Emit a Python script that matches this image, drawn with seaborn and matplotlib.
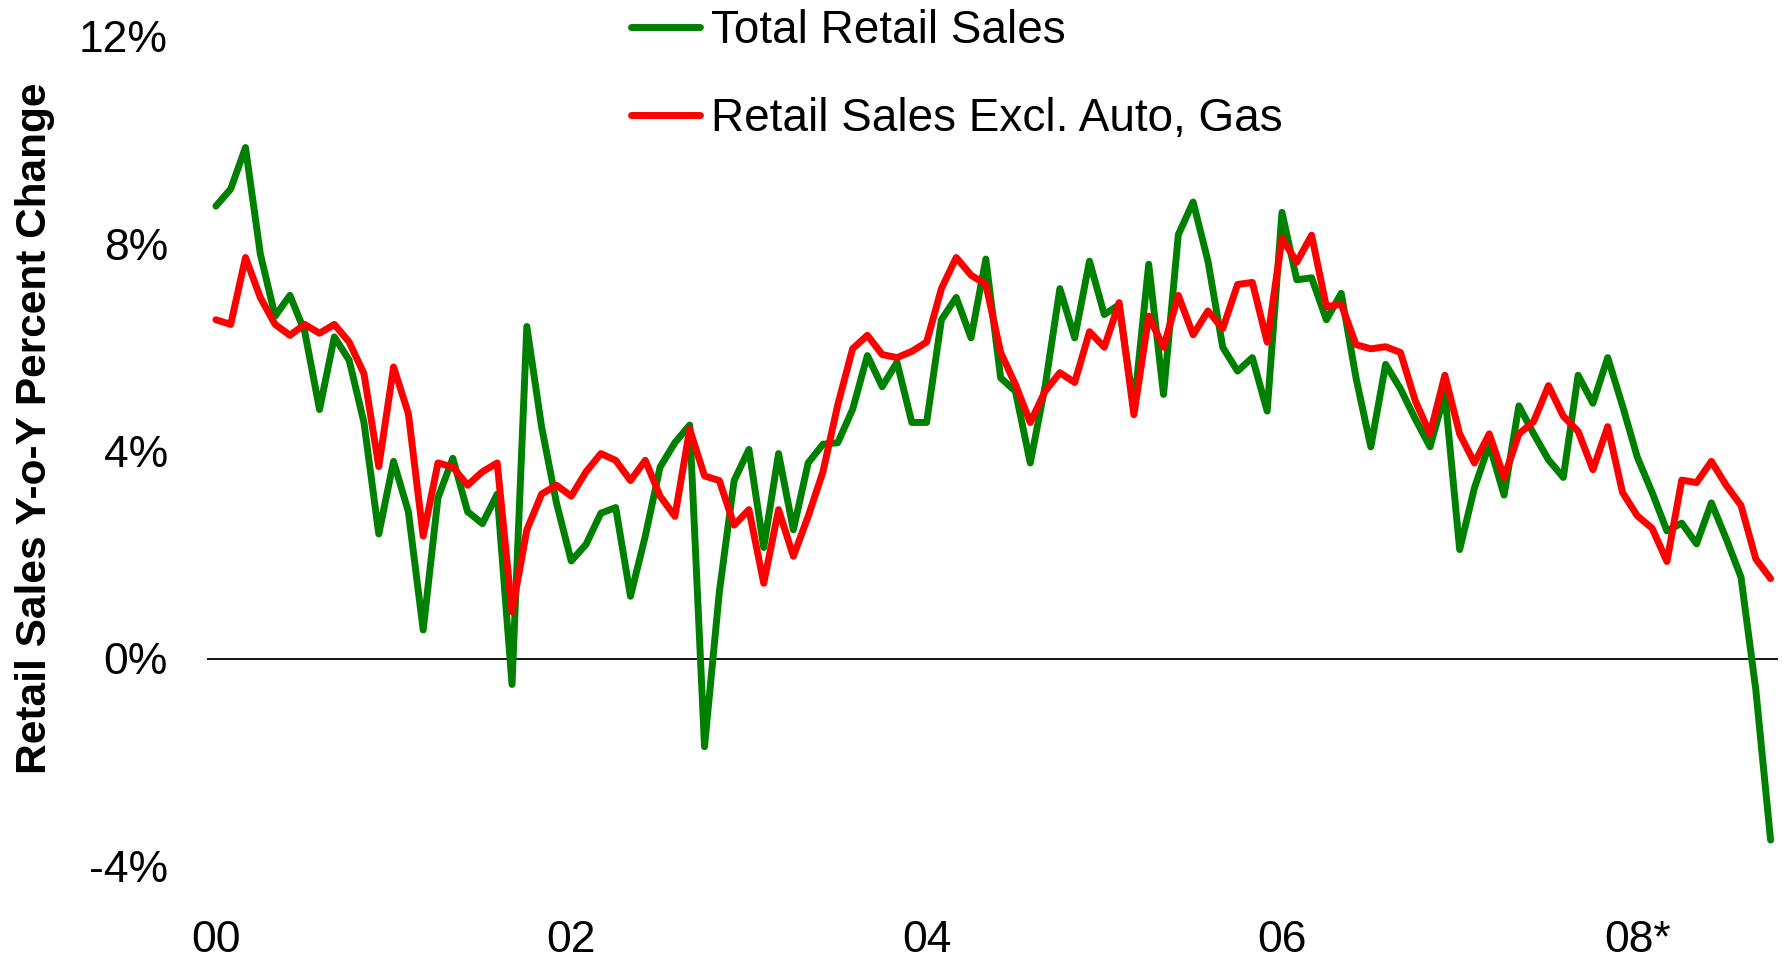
import numpy as np
import pandas as pd
import matplotlib
matplotlib.use("Agg")
import matplotlib.pyplot as plt
import seaborn as sns
from matplotlib.lines import Line2D

# --- 데이터: 월별 전년동월비 (%), 2000-01 ~ 2008-10 ---
total_sales = [
    8.72, 9.05, 9.85, 7.8, 6.6, 7.0, 6.3, 4.8, 6.2, 5.75, 4.55, 2.4,
    3.8, 2.83, 0.55, 3.1, 3.86, 2.83, 2.6, 3.17, -0.5, 6.4, 4.46, 3.0,
    1.88, 2.2, 2.8, 2.91, 1.2, 2.36, 3.69, 4.16, 4.5, -1.7, 1.28, 3.43,
    4.03, 2.14, 3.95, 2.48, 3.77, 4.13, 4.16, 4.8, 5.84, 5.24, 5.71, 4.55,
    4.55, 6.53, 6.96, 6.18, 7.7, 5.41, 5.15, 3.77, 5.24, 7.13, 6.18, 7.66,
    6.63, 6.82, 4.83, 7.6, 5.09, 8.17, 8.8, 7.66, 6.0, 5.54, 5.8, 4.77,
    8.6, 7.3, 7.34, 6.53, 7.04, 5.41, 4.08, 5.67, 5.2, 4.62, 4.08, 5.11,
    2.1, 3.29, 4.13, 3.15, 4.87, 4.33, 3.83, 3.49, 5.46, 4.92, 5.8, 4.87,
    3.88, 3.2, 2.46, 2.61, 2.21, 3.0, 2.31, 1.57, -0.6, -3.5,
]
excl_auto_gas = [
    6.53, 6.44, 7.73, 6.96, 6.44, 6.23, 6.44, 6.27, 6.44, 6.1, 5.49, 3.7,
    5.62, 4.72, 2.36, 3.77, 3.69, 3.34, 3.6, 3.77, 0.9, 2.48, 3.17, 3.34,
    3.13, 3.6, 3.95, 3.82, 3.43, 3.82, 3.13, 2.74, 4.42, 3.52, 3.43, 2.57,
    2.87, 1.45, 2.87, 1.97, 2.74, 3.6, 4.89, 5.97, 6.23, 5.86, 5.8, 5.92,
    6.1, 7.13, 7.73, 7.39, 7.21, 5.9, 5.28, 4.55, 5.15, 5.51, 5.32, 6.3,
    6.0, 6.86, 4.7, 6.6, 6.0, 7.0, 6.24, 6.7, 6.36, 7.21, 7.25, 6.1,
    8.1, 7.64, 8.16, 6.78, 6.83, 6.05, 5.97, 6.01, 5.9, 4.97, 4.33, 5.46,
    4.33, 3.77, 4.33, 3.49, 4.33, 4.57, 5.26, 4.67, 4.38, 3.64, 4.47, 3.2,
    2.75, 2.51, 1.87, 3.44, 3.39, 3.8, 3.34, 2.95, 1.92, 1.54,
]
series_names = ["Total Retail Sales", "Retail Sales Excl. Auto, Gas"]
series_colors = ["#008000", "#FF0000"]
x_ticks = [2000, 2002, 2004, 2006, 2008]
x_ticklabels = ["00", "02", "04", "06", "08*"]
y_ticks = [-4, 0, 4, 8, 12]
y_ticklabels = ["-4%", "0%", "4%", "8%", "12%"]

# --- 스타일 ---
sns.set_theme(style="white")
plt.rcParams["font.family"] = ["Liberation Sans", "DejaVu Sans"]
plt.rcParams["text.color"] = "black"
plt.rcParams["axes.labelcolor"] = "black"
plt.rcParams["xtick.color"] = "black"
plt.rcParams["ytick.color"] = "black"

n = len(total_sales)
years = 2000 + np.arange(n) / 12.0
df = pd.DataFrame({
    "year": np.concatenate([years, years]),
    "value": total_sales + excl_auto_gas,
    "series": [series_names[0]] * n + [series_names[1]] * n,
})

fig = plt.figure(figsize=(17.83, 9.59), dpi=100)
ax = fig.add_axes([207 / 1783, 93 / 959, 1571 / 1783, 830 / 959])

ax.axhline(0, color="black", lw=1.3, zorder=1)
sns.lineplot(data=df, x="year", y="value", hue="series", hue_order=series_names,
             palette=series_colors, lw=5, ax=ax, legend=False, zorder=3,
             solid_joinstyle="round", solid_capstyle="round")

ax.set_xlim(2000 - 0.6 / 12, 2000 + 105.5 / 12)
ax.set_ylim(-4, 12)
ax.set_xticks(x_ticks)
ax.set_xticklabels(x_ticklabels)
ax.set_yticks(y_ticks)
ax.set_yticklabels(y_ticklabels)
ax.tick_params(axis="y", length=0, pad=28, labelsize=32, labelcolor="black")
ax.tick_params(axis="x", length=0, pad=39, labelsize=32, labelcolor="black")
for s in ax.spines.values():
    s.set_visible(False)
ax.set_xlabel("")
ax.set_ylabel("Retail Sales Y-o-Y Percent Change", fontsize=30.5,
              fontweight="bold", color="black")
ax.yaxis.set_label_coords(-0.0965, 0.527)

handles = [Line2D([0], [0], color=c, lw=5, solid_capstyle="round") for c in series_colors]
leg = fig.legend(handles, series_names, loc="upper left",
                 bbox_to_anchor=(631 / 1783, 1 - 9 / 959),
                 frameon=False, fontsize=33, handlelength=1.5, handletextpad=0.25,
                 labelspacing=0.97, borderpad=0, borderaxespad=0)
for t in leg.get_texts():
    t.set_color("black")

fig.savefig("out.png", dpi=100)
